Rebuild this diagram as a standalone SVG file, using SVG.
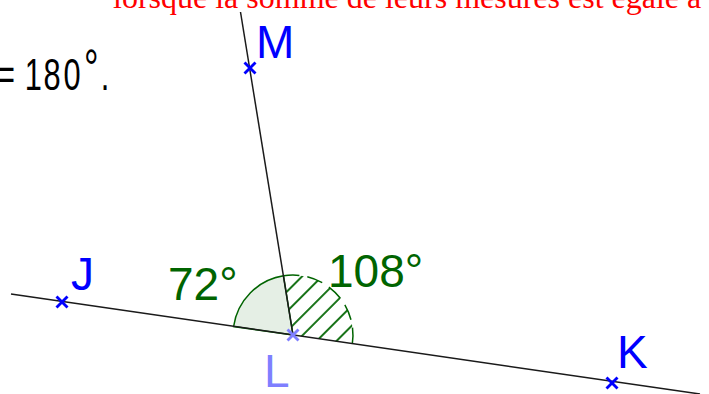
<svg xmlns="http://www.w3.org/2000/svg" width="709" height="394" viewBox="0 0 709 394">
  <style>
    .lbl{font-family:"Liberation Sans",Arial,sans-serif;font-size:46px}
    .pt{stroke:#0000ff;stroke-width:2.8;fill:none}
    .ln{stroke:#1a1a1a;stroke-width:1.5;fill:none}
    .ang{font-family:"Liberation Sans",Arial,sans-serif;font-size:46px;fill:#006400}
  </style>
  <defs>
    <pattern id="hatch" patternUnits="userSpaceOnUse" width="14" height="14" patternTransform="translate(293 335) rotate(-45)">
      <line x1="0" y1="7" x2="14" y2="7" stroke="#006400" stroke-width="1.8"/>
    </pattern>
    <g id="cross">
      <line x1="-5.5" y1="-5.5" x2="5.5" y2="5.5"/>
      <line x1="-5.5" y1="5.5" x2="5.5" y2="-5.5"/>
    </g>
  </defs>
  <rect width="709" height="394" fill="#ffffff"/>

  <text x="113" y="8" font-family="'Liberation Serif','Times New Roman',serif" font-size="32" fill="#ff0000">lorsque la somme de leurs mesures est égale à</text>

  <text transform="scale(0.7 1)" y="90" font-family="'Liberation Sans',Arial,sans-serif" font-size="44" fill="#000000"><tspan x="-4.3">=</tspan><tspan x="35.3">1</tspan><tspan x="62">8</tspan><tspan x="90.6">0</tspan><tspan x="120" y="86" font-size="52">°</tspan><tspan x="143.9" y="90">.</tspan></text>

  <g id="angles">
    <path d="M293 335 L233.6 326.5 A60 60 0 0 1 283.5 275.8 Z" fill="#006400" fill-opacity="0.1" stroke="#006400" stroke-width="1.5"/>
    <path d="M293 335 L283.5 275.8 A60 60 0 0 1 352.3 343.9 Z" fill="url(#hatch)"/>
    <path d="M283.5 275.8 A60 60 0 0 1 352.3 343.9" fill="none" stroke="#006400" stroke-width="1.5" stroke-dasharray="16 8"/>
  </g>

  <g id="connectors">
    <line class="ln" x1="11" y1="294" x2="700" y2="394"/>
    <line class="ln" x1="240.5" y1="12" x2="293" y2="335"/>
  </g>

  <g id="J"><use href="#cross" class="pt" x="62" y="302"/><text class="lbl" x="71" y="290" fill="#0000ff">J</text></g>
  <g id="M"><use href="#cross" class="pt" x="250" y="68"/><text class="lbl" x="256" y="58" fill="#0000ff">M</text></g>
  <g id="K"><use href="#cross" class="pt" x="612" y="383"/><text class="lbl" x="617" y="368" fill="#0000ff">K</text></g>
  <g id="L"><use href="#cross" class="pt" x="293" y="335" style="stroke:#7f7fff"/><text class="lbl" x="264" y="387" fill="#7f7fff">L</text></g>

  <g id="labels">
    <text class="ang" x="168" y="300">72°</text>
    <text class="ang" x="328" y="287">108°</text>
  </g>
</svg>
